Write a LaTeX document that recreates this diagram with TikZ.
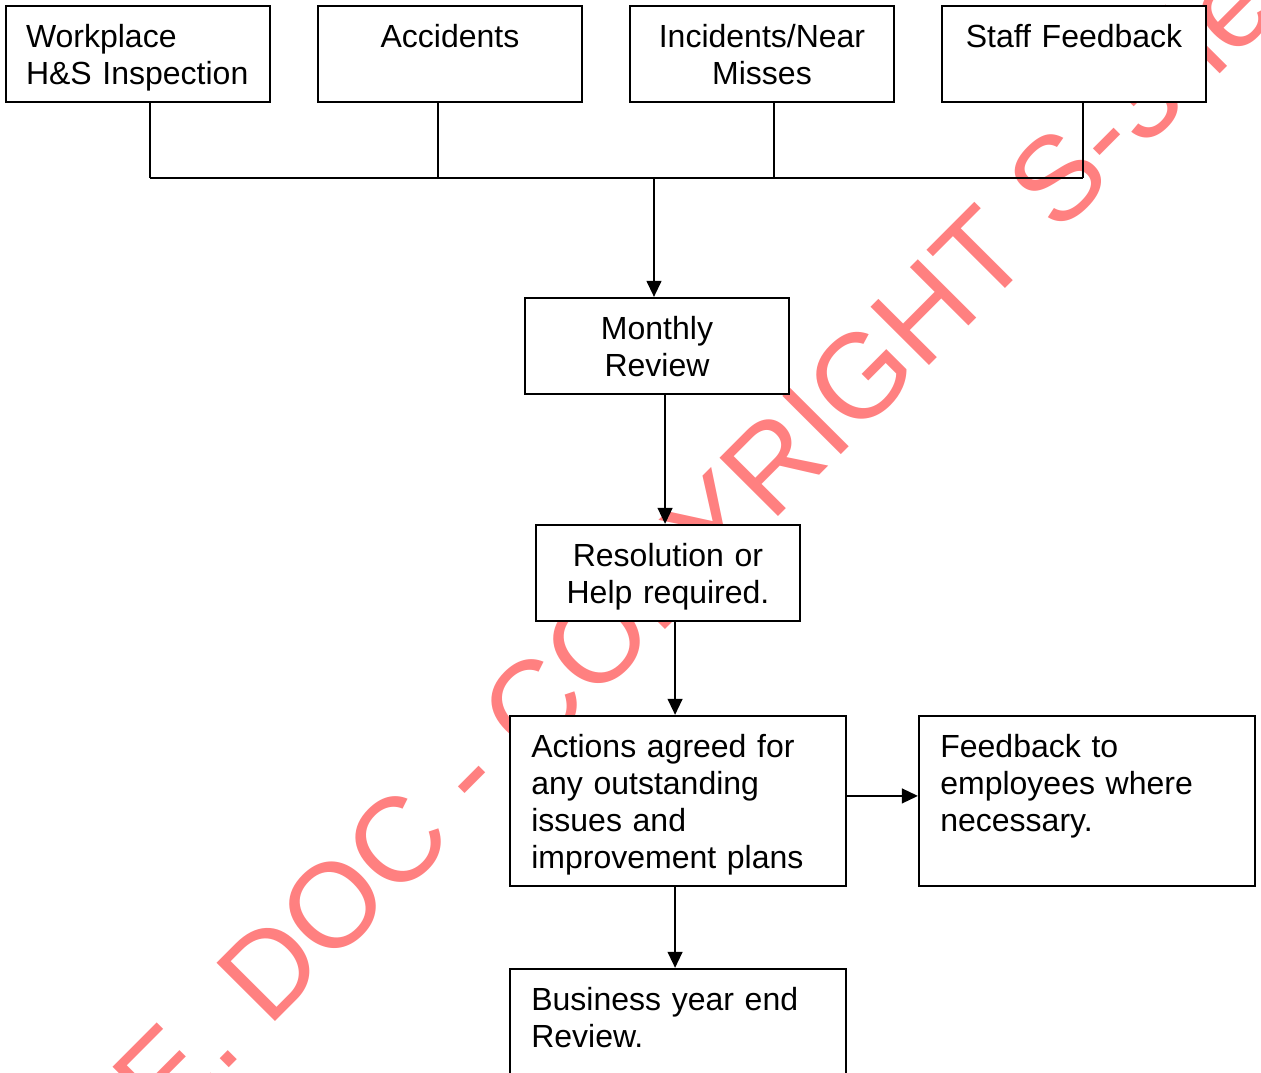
\documentclass[tikz,border=0pt]{standalone}
\usepackage{fontspec}
\setmainfont{Liberation Sans}
\usetikzlibrary{arrows.meta,positioning}

\newcommand\topstrut{\rule{0pt}{11.4pt}}
\newcommand\botstrut{\rule[-2.7pt]{0pt}{2.7pt}}

\begin{document}
\begin{tikzpicture}[
    x=0.375pt, y=-0.375pt,
    font=\fontsize{12}{13.9}\selectfont,
    srcbox/.style={draw, line width=0.8pt, fill=white, align=center, text width=84pt, inner xsep=7.5pt, inner ysep=4pt, minimum width=99pt, minimum height=36pt,
        execute at begin node=\topstrut, execute at end node=\botstrut},
    widebox/.style={draw, line width=0.8pt, fill=white, align=left, text width=110pt, inner xsep=8pt, inner ysep=4pt, minimum width=126pt, minimum height=63pt,
        execute at begin node=\topstrut, execute at end node=\botstrut},
    line/.style={line width=0.8pt},
    arrow/.style={line width=0.8pt, -{Triangle[width=5.5pt,length=6pt]}},
    stamp/.style={text=red!50, font=\fontsize{45}{50}\selectfont, rotate=45.1, anchor=base, inner sep=0pt}
]
    \useasboundingbox (0,0) rectangle (1261,1073);
    \clip (0,0) rectangle (1261,1073);

    \node[stamp] (mark) at (579,717) {SAMPLE. DOC - COPYRIGHT S-3.ie};

    \node[srcbox, align=left] (insp) at (138,54) {Workplace\\H\&S Inspection};
    \node[srcbox] (accid) at (450,54) {Accidents\\~};
    \node[srcbox] (incid) at (762,54) {Incidents/Near\\Misses};
    \node[srcbox] (staff) at (1074,54) {Staff Feedback\\~};

    \node[srcbox] (review) at (657,346) {Monthly\\Review};
    \node[srcbox] (resol) at (668,573) {Resolution or\\Help required.};
    \node[widebox] (actions) at (678,801) {Actions agreed for\\any outstanding\\issues and\\improvement plans};
    \node[widebox] (notify) at (1087,801) {Feedback to\\employees where\\necessary.\\~};
    \node[widebox] (yearend) at (678,1054) {Business year end\\Review.\\~\\~};

    \coordinate (j1) at (150,178);
    \coordinate (j2) at (438,178);
    \coordinate (j3) at (774,178);
    \coordinate (j4) at (1083,178);
    \coordinate (bus) at (654,178);

    \draw[line] (insp.south -| j1) -- (j1);
    \draw[line] (accid.south -| j2) -- (j2);
    \draw[line] (incid.south -| j3) -- (j3);
    \draw[line] (staff.south -| j4) -- (j4);
    \draw[line] (j1) -- (j4);

    \draw[arrow] (bus) -- (bus |- review.north);
    \draw[arrow] ([xshift=-1.1pt]resol.north |- review.south) -- ([xshift=-1.1pt]resol.north);
    \draw[arrow] ([xshift=-1.1pt]actions.north |- resol.south) -- ([xshift=-1.1pt]actions.north);
    \draw[arrow] ([yshift=1.9pt]actions.east) -- ([yshift=1.9pt]notify.west);
    \draw[arrow] ([xshift=-1.1pt]actions.south) -- ([xshift=-1.1pt]yearend.north);
\end{tikzpicture}
\end{document}
